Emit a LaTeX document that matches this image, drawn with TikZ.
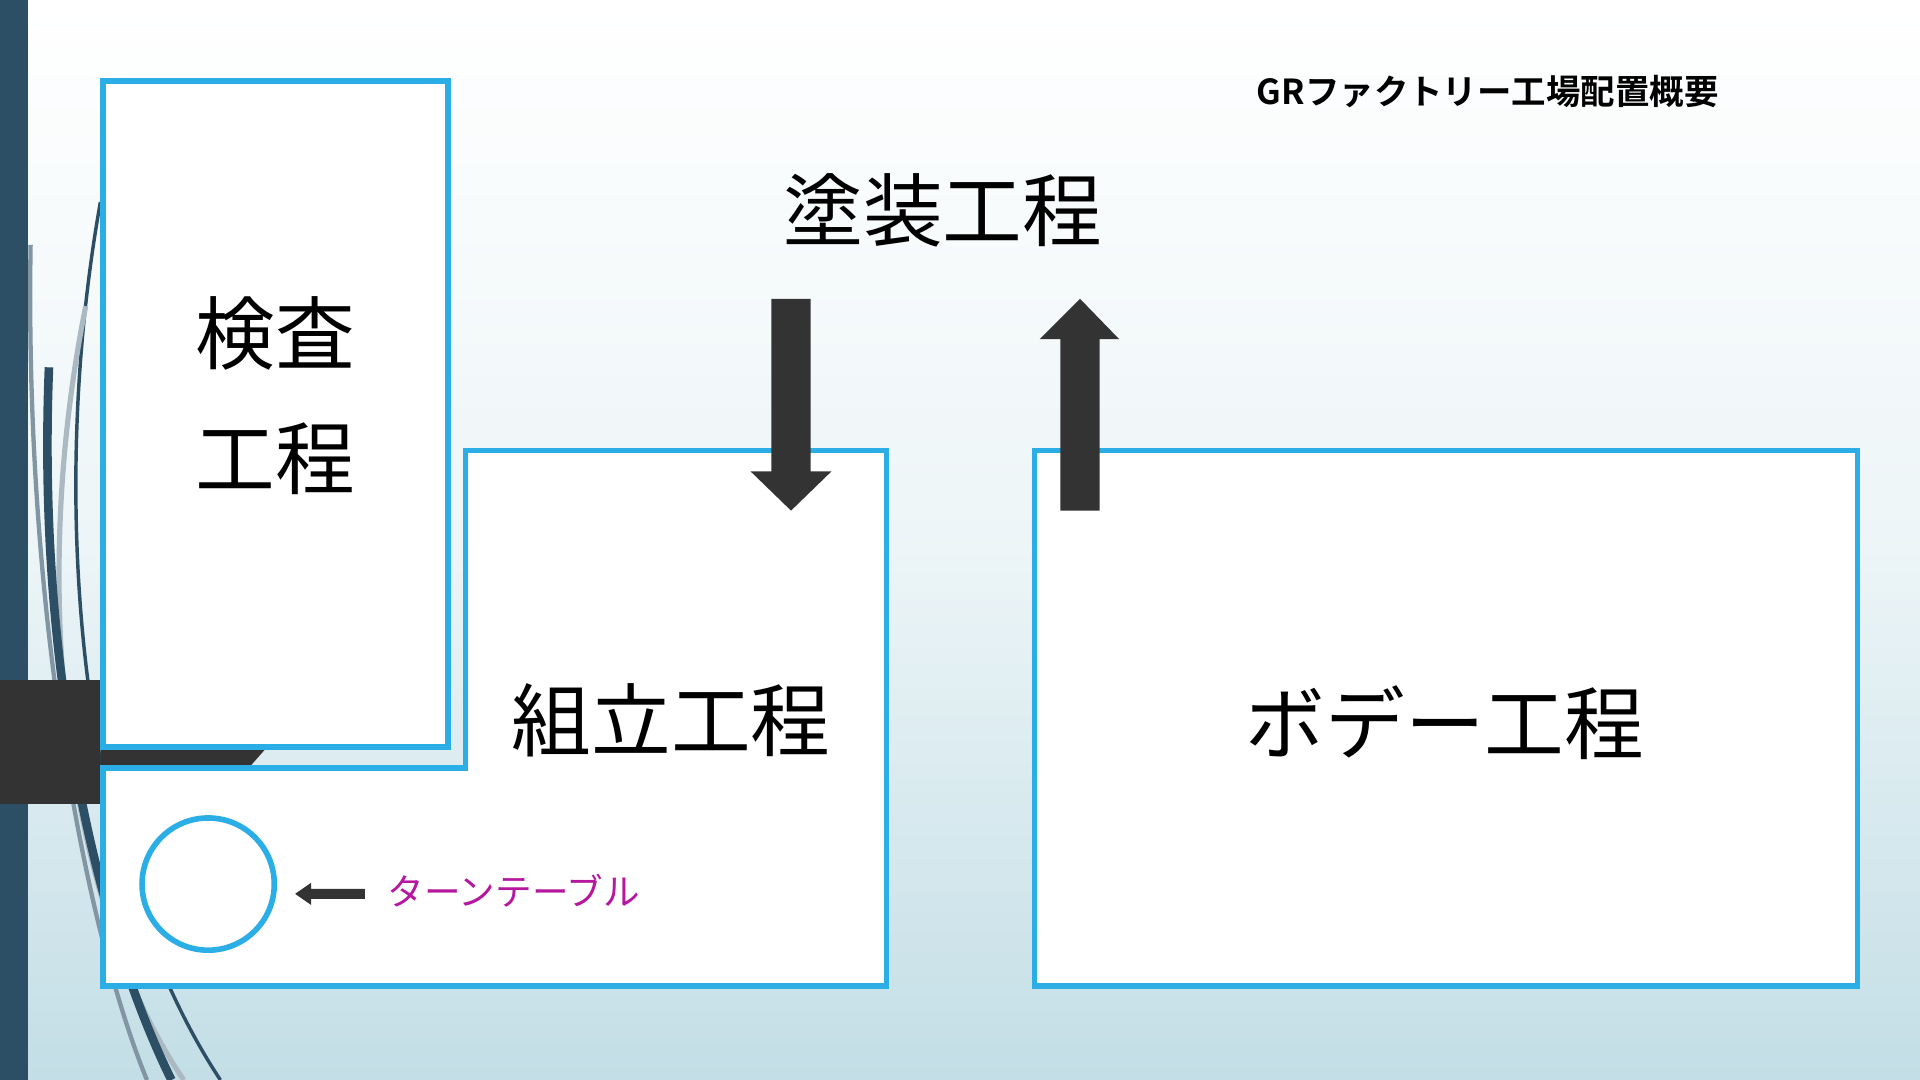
\documentclass[tikz,border=0pt]{standalone}
\usepackage{fontspec}
\newfontfamily\jp{Noto Sans CJK JP}
\newfontfamily\jpb{Noto Sans CJK JP Bold}
\definecolor{cy}{HTML}{2BAEE6}
\definecolor{dk}{HTML}{333333}
\definecolor{bar}{HTML}{2D4F66}
\definecolor{bgb}{HTML}{C3DEE6}
\definecolor{mag}{HTML}{B5179E}
\tikzset{box/.style={draw=cy,line width=1.3pt,fill=white},
 big/.style={font=\jp\fontsize{18.5}{22}\selectfont,text=black}}
\begin{document}
\begin{tikzpicture}[x=0.01cm,y=-0.01cm]
\shade[top color=white,bottom color=bgb,middle color=white!70!bgb] (0,0) rectangle (1568,882);
\useasboundingbox (0,0) rectangle (1568,882);
\fill[bar] (0,0) rectangle (23,882);
\draw[bar,line width=0.8pt] (82,165) .. controls (40,400) and (60,700) .. (180,882);
\draw[bar!40,line width=1.2pt] (70,250) .. controls (20,500) and (60,750) .. (150,882);
\draw[bar,line width=2pt] (40,300) .. controls (30,550) and (80,760) .. (140,882);
\draw[bar!60,line width=1pt] (25,200) .. controls (20,500) and (70,760) .. (120,882);
\fill[dk] (0,555) rectangle (82,657);
\fill[dk] (82,608) -- (220,608) -- (205,625) -- (82,625) -- cycle;
\draw[box] (84,66) rectangle (366,610);
\draw[box] (380,368) -- (724,368) -- (724,805) -- (84,805) -- (84,627) -- (380,627) -- cycle;
\draw[box] (845,368) rectangle (1517,805);
\node[big,align=center] (kensa) at (225,323) {検査\\[7pt]工程};
\node[big] (kumi) at (548,588) {組立工程};
\node[big] (body) at (1180,590) {ボデー工程};
\node[big] (toso) at (770,172) {塗装工程};
\node[font=\jpb\fontsize{8}{10}\selectfont] (title) at (1215,75) {GRファクトリー工場配置概要};
\draw[box] (170,722) circle (54);
\node[font=\jp\fontsize{8.5}{10}\selectfont,text=mag,anchor=west] (tt) at (304,727) {ターンテーブル};
\fill[dk] (298,726) -- (254,726) -- (254,721) -- (241,730) -- (254,739) -- (254,734) -- (298,734) -- cycle;
\fill[dk] (630,244) -- (662,244) -- (662,385) -- (679,385) -- (646,417) -- (613,385) -- (630,385) -- cycle;
\fill[dk] (866,417) -- (898,417) -- (898,277) -- (914,277) -- (882,244) -- (849,277) -- (866,277) -- cycle;
\end{tikzpicture}
\end{document}
